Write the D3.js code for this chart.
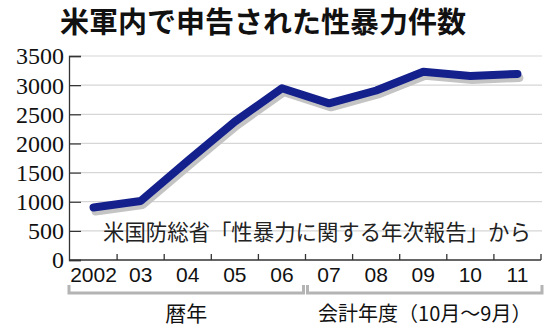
<!DOCTYPE html>
<html>
<head>
<meta charset="utf-8">
<script src="https://cdn.jsdelivr.net/npm/d3@7"></script>
<style>
  body { margin: 0; background: #fff; }
  svg { display: block; }
</style>
</head>
<body>
<svg width="555" height="330"></svg>
<script>
// data
var yearLabels = ["2002", "03", "04", "05", "06", "07", "08", "09", "10", "11"];
var counts = [901, 1012, 1700, 2374, 2947, 2688, 2908, 3230, 3158, 3192];
var yTicks = [0, 500, 1000, 1500, 2000, 2500, 3000, 3500];

var titleText = "米軍内で申告された性暴力件数";
var sourceText = "米国防総省「性暴力に関する年次報告」から";
var groupLabels = ["暦年", "会計年度（10月～9月）"];

var svg = d3.select("svg");
var jp = "'Noto Sans CJK JP', sans-serif";

var x = d3.scaleBand()
    .domain(yearLabels)
    .range([70, 541])
    .padding(0);

var y = d3.scaleLinear()
    .domain([0, 3500])
    .range([260, 56]);

// title
svg.append("text")
    .attr("x", 263)
    .attr("y", 33)
    .attr("text-anchor", "middle")
    .attr("font-family", jp)
    .attr("font-weight", "bold")
    .attr("font-size", "29px")
    .attr("fill", "#111")
    .text(titleText);

// gridlines
svg.append("g")
    .selectAll("line")
    .data(yTicks.filter(d => d > 0))
    .enter().append("line")
    .attr("x1", 81)
    .attr("x2", 542)
    .attr("y1", d => y(d))
    .attr("y2", d => y(d))
    .attr("stroke", "#d6d6d6")
    .attr("stroke-width", 1.2);

// y axis, ticks point inward
var yAxis = d3.axisRight(y)
    .tickValues(yTicks)
    .tickSize(12)
    .tickFormat("");

var yg = svg.append("g")
    .attr("transform", "translate(69,0)")
    .call(yAxis);
yg.select(".domain").attr("stroke", "#333").attr("stroke-width", 1.3);
yg.selectAll(".tick line").attr("stroke", "#333").attr("stroke-width", 1.3);

svg.append("g")
    .selectAll("text")
    .data(yTicks)
    .enter().append("text")
    .attr("x", 64)
    .attr("y", d => y(d))
    .attr("dy", "0.35em")
    .attr("text-anchor", "end")
    .attr("font-family", "'Liberation Serif', serif")
    .attr("font-size", "24px")
    .attr("fill", "#111")
    .text(d => d);

// x axis line and band boundary ticks
svg.append("line")
    .attr("x1", 69)
    .attr("x2", 541)
    .attr("y1", y(0))
    .attr("y2", y(0))
    .attr("stroke", "#333")
    .attr("stroke-width", 1.3);

var bounds = yearLabels.map(d => x(d)).concat([x.range()[1]]);
svg.append("g")
    .selectAll("line")
    .data(bounds.slice(1))
    .enter().append("line")
    .attr("x1", d => d)
    .attr("x2", d => d)
    .attr("y1", y(0))
    .attr("y2", y(0) - 6)
    .attr("stroke", "#333")
    .attr("stroke-width", 1.3);

svg.append("g")
    .selectAll("text")
    .data(yearLabels)
    .enter().append("text")
    .attr("x", d => x(d) + x.bandwidth() / 2)
    .attr("y", 282)
    .attr("text-anchor", "middle")
    .attr("font-family", "'Liberation Sans', Arial, sans-serif")
    .attr("font-size", "21px")
    .attr("fill", "#111")
    .text(d => d);

// source note
svg.append("text")
    .attr("x", 103)
    .attr("y", 240)
    .attr("font-family", jp)
    .attr("font-size", "21.4px")
    .attr("fill", "#222")
    .text(sourceText);

// line with shadow
var line = d3.line()
    .x((d, i) => x(yearLabels[i]) + x.bandwidth() / 2)
    .y(d => y(d));

svg.append("path")
    .datum(counts)
    .attr("transform", "translate(2,4)")
    .attr("d", line)
    .attr("fill", "none")
    .attr("stroke", "#c4c4c4")
    .attr("stroke-width", 8)
    .attr("stroke-linecap", "round")
    .attr("stroke-linejoin", "round");

svg.append("path")
    .datum(counts)
    .attr("d", line)
    .attr("fill", "none")
    .attr("stroke", "#14208c")
    .attr("stroke-width", 8)
    .attr("stroke-linecap", "round")
    .attr("stroke-linejoin", "round");

// brackets under the axis
var split = x("07");
var brackets = [
    { x0: x.range()[0] - 1, x1: split - 2, label: groupLabels[0], size: 21 },
    { x0: split + 2, x1: x.range()[1] + 1, label: groupLabels[1], size: 20 }
];

svg.append("g")
    .selectAll("path")
    .data(brackets)
    .enter().append("path")
    .attr("d", d => "M" + d.x0 + ",285V293H" + d.x1 + "V285")
    .attr("fill", "none")
    .attr("stroke", "#b4b4b4")
    .attr("stroke-width", 3);

svg.append("g")
    .selectAll("text")
    .data(brackets)
    .enter().append("text")
    .attr("x", d => (d.x0 + d.x1) / 2)
    .attr("y", 321)
    .attr("text-anchor", "middle")
    .attr("font-family", jp)
    .attr("font-size", d => d.size + "px")
    .attr("fill", "#111")
    .text(d => d.label);
</script>
</body>
</html>
